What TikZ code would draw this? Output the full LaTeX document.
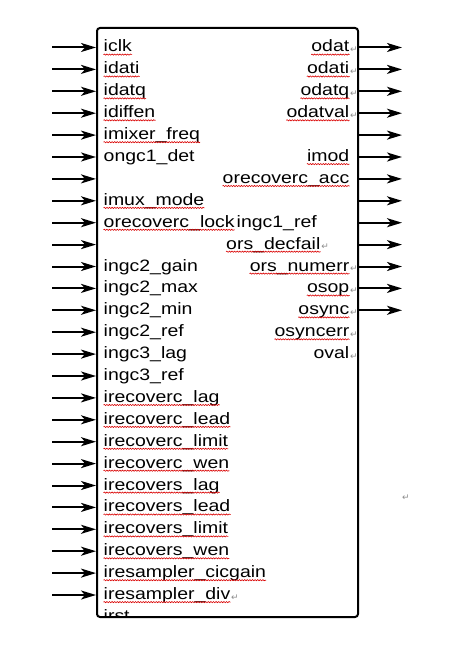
\documentclass[tikz,border=0pt]{standalone}
\usepackage{fontspec}
\setmainfont{Liberation Sans}[FakeStretch=1.18]
\newfontfamily\symfont{DejaVu Sans}
\usetikzlibrary{arrows.meta,decorations.pathmorphing}
\tikzset{
  lbl/.style={font=\fontsize{16.5}{18}\selectfont, inner sep=0pt, text=black},
  arr/.style={line width=2pt, -{Stealth[length=15pt,width=9pt,inset=4pt]}},
  squig/.style={draw=red!85!black, line width=0.6pt, decorate,
    decoration={snake, amplitude=0.6pt, segment length=2.6pt}},
  retmark/.style={font=\symfont\fontsize{9}{9}\selectfont, text=black!45, inner sep=0pt, anchor=base west},
  blockbox/.style={draw, line width=2pt, rounded corners=3pt, inner sep=0pt}
}
\begin{document}
\begin{tikzpicture}[x=1pt,y=-1pt]
\useasboundingbox (0,0) rectangle (457,652);
% block
\node[blockbox, anchor=north west, minimum width=261pt, minimum height=589pt] (blk) at (96,27) {};
% left input arrows
\foreach \k in {0,...,25}{
  \coordinate (li\k) at (52,{47.5+21.9*\k});
  \draw[arr] (li\k) -- (li\k -| blk.west);
}
% right output arrows
\foreach \k in {0,...,12}{
  \coordinate (ro\k) at (402,{47.5+21.9*\k});
  \draw[arr] (ro\k -| blk.east) -- (ro\k);
}
% left labels
\foreach \k/\t in {0/iclk,1/idati,2/idatq,3/idiffen,4/imixer\_freq,5/ongc1\_det,
  7/imux\_mode,8/orecoverc\_lock,10/ingc2\_gain,11/ingc2\_max,12/ingc2\_min,
  13/ingc2\_ref,14/ingc3\_lag,15/ingc3\_ref,16/irecoverc\_lag,17/irecoverc\_lead,
  18/irecoverc\_limit,19/irecoverc\_wen,20/irecovers\_lag,21/irecovers\_lead,
  22/irecovers\_limit,23/irecovers\_wen,24/iresampler\_cicgain,25/iresampler\_div}{
  \node[lbl, anchor=base west] (L\k) at (103.5,{52+21.9*\k}) {\t};
}
\begin{scope}
  \clip (97,28) rectangle (356,615);
  \node[lbl, anchor=base west] (L26) at (103.5,{52+21.9*26}) {irst};
\end{scope}
% right labels (right aligned)
\foreach \k/\t in {0/odat,1/odati,2/odatq,3/odatval,5/imod,6/orecoverc\_acc,
  10/ors\_numerr,11/osop,12/osync,13/osyncerr,14/oval}{
  \node[lbl, anchor=base east] (R\k) at (349.5,{52+21.9*\k}) {\t};
}
\node[lbl, anchor=base west] (R8) at (236.5,{52+21.9*8}) {ingc1\_ref};
\node[lbl, anchor=base west] (R9) at (226,{52+21.9*9}) {ors\_decfail};
% spelling squiggles
\foreach \n in {L0,L1,L2,L3,L4,L7,L8,L16,L17,L18,L19,L20,L21,L22,L23,L24,L25,
  R0,R1,R2,R3,R5,R6,R9,R10,R11,R12,R13}{
  \path[squig] ([yshift=-2.6pt]\n.base west) -- ([yshift=-2.6pt]\n.base east);
}
% paragraph marks
\foreach \n in {L25,R0,R1,R2,R3,R9,R10,R11,R12,R13,R14}{
  \node[retmark] (m\n) at ([xshift=0.5pt,yshift=-0.5pt]\n.base east) {↵};
}
\node[retmark] (mext) at (402,500) {↵};
\end{tikzpicture}
\end{document}
